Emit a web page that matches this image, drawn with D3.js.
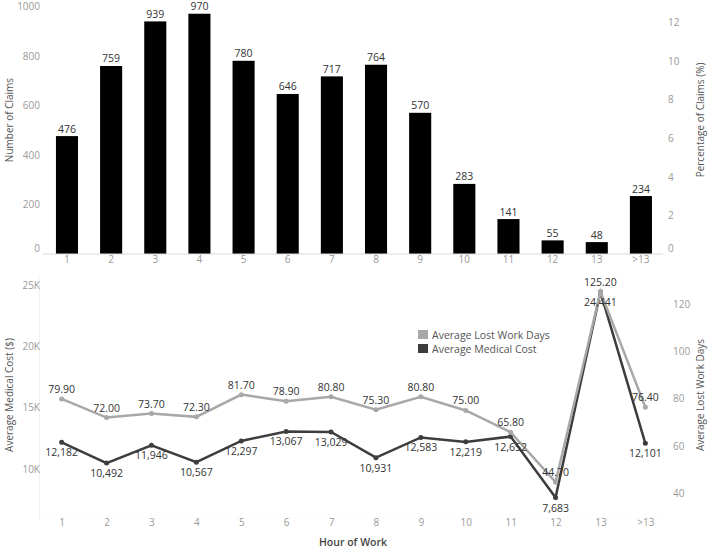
<!DOCTYPE html>
<html>
<head>
<meta charset="utf-8">
<script src="https://cdn.jsdelivr.net/npm/d3@7"></script>
<style>
    body { margin: 0; background: #fff; }
    svg { font-family: "Open Sans", "Lato", sans-serif; }
</style>
</head>
<body>
<script>
const hours = ['1', '2', '3', '4', '5', '6', '7', '8', '9', '10', '11', '12', '13', '>13'];
const claims = [476, 759, 939, 970, 780, 646, 717, 764, 570, 283, 141, 55, 48, 234];
const medicalCost = [12182, 10492, 11946, 10567, 12297, 13067, 13029, 10931, 12583, 12219, 12652, 7683, 24441, 12101];
const lostDays = [79.9, 72.0, 73.7, 72.3, 81.7, 78.9, 80.8, 75.3, 80.8, 75.0, 65.8, 44.7, 125.2, 76.4];
const claimTicks = [0, 200, 400, 600, 800, 1000];
const pctTicks = [0, 2, 4, 6, 8, 10, 12];
const costTicks = [10000, 15000, 20000, 25000];
const dayTicks = [40, 60, 80, 100, 120];

const width = 709;
const height = 550;

const svg = d3.select('body')
    .append('svg')
    .attr('width', width)
    .attr('height', height);

const tickColor = '#9a9a9a';
const labelColor = '#333';
const titleColor = '#555';

// ---------- top: bars ----------
const xTop = d3.scaleBand()
    .domain(hours)
    .range([44.9, 663])
    .paddingInner(0.5)
    .paddingOuter(0.25);

const yClaims = d3.scaleLinear().domain([0, 1000]).range([254, 6.3]);
const yPct = d3.scaleLinear().domain([0, 12.84]).range([254, 6.3]);

svg.append('g')
    .selectAll('rect')
    .data(claims)
    .enter()
    .append('rect')
    .attr('x', (d, i) => xTop(hours[i]))
    .attr('y', d => yClaims(d))
    .attr('width', xTop.bandwidth())
    .attr('height', d => yClaims(0) - yClaims(d))
    .attr('fill', '#000');

svg.append('line')
    .attr('x1', 43).attr('x2', 663)
    .attr('y1', yClaims(0)).attr('y2', yClaims(0))
    .attr('stroke', '#d9d9d9');

svg.append('g')
    .selectAll('text')
    .data(claims)
    .enter()
    .append('text')
    .attr('x', (d, i) => xTop(hours[i]) + xTop.bandwidth() / 2)
    .attr('y', d => yClaims(d) - 3.5)
    .attr('text-anchor', 'middle')
    .attr('font-size', 10.5)
    .attr('fill', labelColor)
    .text(d => d);

function styleAxis(g, lift)
{
    g.select('.domain').remove();
    g.selectAll('text')
        .attr('fill', tickColor)
        .attr('font-size', 10)
        .attr('font-family', '"Open Sans", sans-serif');
    if (lift)
    {
        g.selectAll('.tick').filter(d => d === 0).select('text').attr('dy', '-0.3em');
    }
}

svg.append('g')
    .attr('transform', 'translate(40,0)')
    .call(d3.axisLeft(yClaims).tickValues(claimTicks).tickSize(0).tickPadding(0)
        .tickFormat(d3.format('d')))
    .call(g => styleAxis(g, true));

svg.append('g')
    .attr('transform', 'translate(668,0)')
    .call(d3.axisRight(yPct).tickValues(pctTicks).tickSize(0).tickPadding(0))
    .call(g => styleAxis(g, true));

svg.append('g')
    .attr('transform', 'translate(0,256)')
    .call(d3.axisBottom(xTop).tickSize(0).tickPadding(0))
    .call(g => styleAxis(g, false));

svg.append('text')
    .attr('transform', 'translate(13,120) rotate(-90)')
    .attr('text-anchor', 'middle')
    .attr('font-size', 10)
    .attr('fill', titleColor)
    .text('Number of Claims');

svg.append('text')
    .attr('transform', 'translate(704,120) rotate(-90)')
    .attr('text-anchor', 'middle')
    .attr('font-size', 10)
    .attr('fill', titleColor)
    .text('Percentage of Claims (%)');

// ---------- bottom: lines ----------
const xBot = d3.scalePoint()
    .domain(hours)
    .range([39.2, 667.8])
    .padding(0.5);

const yCost = d3.scaleLinear().domain([6000, 25000]).range([518.2, 285]);
const yDays = d3.scaleLinear().domain([40, 120]).range([493.3, 304]);

svg.append('line')
    .attr('x1', 39.5).attr('x2', 39.5)
    .attr('y1', 278).attr('y2', 518)
    .attr('stroke', '#f0f0f0');

svg.append('line')
    .attr('x1', 39).attr('x2', 668)
    .attr('y1', 518).attr('y2', 518)
    .attr('stroke', '#f0f0f0')
    .attr('stroke-dasharray', '1,3');

svg.append('g')
    .attr('transform', 'translate(40,0)')
    .call(d3.axisLeft(yCost).tickValues(costTicks).tickSize(0).tickPadding(0)
        .tickFormat(d => d / 1000 + 'K'))
    .call(g => styleAxis(g, false));

svg.append('g')
    .attr('transform', 'translate(673,0)')
    .call(d3.axisRight(yDays).tickValues(dayTicks).tickSize(0).tickPadding(0))
    .call(g => styleAxis(g, false));

svg.append('g')
    .attr('transform', 'translate(0,519)')
    .call(d3.axisBottom(xBot).tickSize(0).tickPadding(0))
    .call(g => styleAxis(g, false));

const darkColor = '#3d3d3d';
const lightColor = '#a8a8a8';

const costLine = d3.line()
    .x((d, i) => xBot(hours[i]))
    .y(d => yCost(d));

const daysLine = d3.line()
    .x((d, i) => xBot(hours[i]))
    .y(d => yDays(d));

svg.append('path')
    .datum(medicalCost)
    .attr('d', costLine)
    .attr('fill', 'none')
    .attr('stroke', darkColor)
    .attr('stroke-width', 2.5);

svg.append('g')
    .selectAll('circle')
    .data(medicalCost)
    .enter()
    .append('circle')
    .attr('cx', (d, i) => xBot(hours[i]))
    .attr('cy', d => yCost(d))
    .attr('r', 2.5)
    .attr('fill', darkColor);

svg.append('path')
    .datum(lostDays)
    .attr('d', daysLine)
    .attr('fill', 'none')
    .attr('stroke', lightColor)
    .attr('stroke-width', 2.5);

svg.append('g')
    .selectAll('circle')
    .data(lostDays)
    .enter()
    .append('circle')
    .attr('cx', (d, i) => xBot(hours[i]))
    .attr('cy', d => yDays(d))
    .attr('r', 2.5)
    .attr('fill', lightColor);

svg.append('g')
    .selectAll('text')
    .data(lostDays)
    .enter()
    .append('text')
    .attr('x', (d, i) => xBot(hours[i]))
    .attr('y', d => yDays(d) - 6)
    .attr('text-anchor', 'middle')
    .attr('font-size', 10.5)
    .attr('fill', labelColor)
    .text(d => d3.format('.2f')(d));

svg.append('g')
    .selectAll('text')
    .data(medicalCost)
    .enter()
    .append('text')
    .attr('x', (d, i) => xBot(hours[i]))
    .attr('y', d => yCost(d) + 14)
    .attr('text-anchor', 'middle')
    .attr('font-size', 10.5)
    .attr('fill', labelColor)
    .text(d => d3.format(',')(d));

// legend
const legend = svg.append('g').attr('transform', 'translate(418,330)');
[['Average Lost Work Days', lightColor], ['Average Medical Cost', darkColor]].forEach(([name, color], i) =>
{
    legend.append('rect')
        .attr('x', 0).attr('y', i * 14)
        .attr('width', 10).attr('height', 9)
        .attr('fill', color);
    legend.append('text')
        .attr('x', 14).attr('y', i * 14 + 8.5)
        .attr('font-size', 10.5)
        .attr('fill', '#555')
        .text(name);
});

svg.append('text')
    .attr('transform', 'translate(13,395) rotate(-90)')
    .attr('text-anchor', 'middle')
    .attr('font-size', 10)
    .attr('fill', titleColor)
    .text('Average Medical Cost ($)');

svg.append('text')
    .attr('transform', 'translate(704,395) rotate(-90)')
    .attr('text-anchor', 'middle')
    .attr('font-size', 10)
    .attr('fill', titleColor)
    .text('Average Lost Work Days');

svg.append('text')
    .attr('x', 353)
    .attr('y', 546)
    .attr('text-anchor', 'middle')
    .attr('font-size', 10.5)
    .attr('font-weight', 600)
    .attr('fill', '#444')
    .text('Hour of Work');
</script>
</body>
</html>
